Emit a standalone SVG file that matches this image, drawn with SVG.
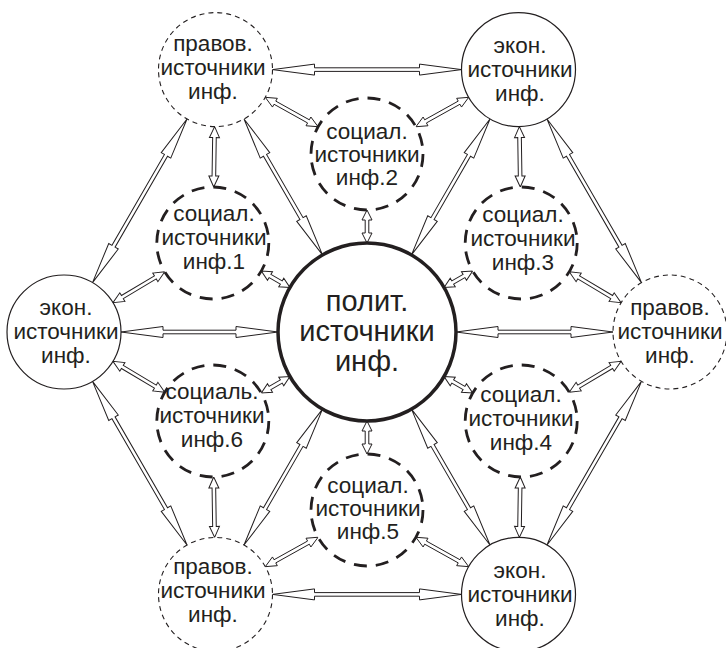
<svg xmlns="http://www.w3.org/2000/svg" xmlns:xlink="http://www.w3.org/1999/xlink" width="726" height="648" viewBox="0 0 726 648">
<style>
.n{fill:#fff;stroke:#231f20}
.ctr{stroke-width:3.5}
.ek{stroke-width:1.2}
.pr{stroke-width:1.1;stroke-dasharray:5 4}
.so{stroke-width:2.8;stroke-dasharray:13 9}
text{font-family:"Liberation Sans",Arial,sans-serif;fill:#231f20;text-anchor:middle}
.t1{font-size:22.5px}
.t2{font-size:29px}
</style>
<defs>
<path id="spoke" d="M89,0 L131,-5.5 L131,-1.8 L204,-1.8 L204,-5.5 L246,0 L204,5.5 L204,1.8 L131,1.8 L131,5.5 Z"/>
<path id="edge" d="M262.4,-94.5 L267.9,-52.5 L264.2,-52.5 L264.2,52.5 L267.9,52.5 L262.4,94.5 L256.9,52.5 L260.6,52.5 L260.6,-52.5 L256.9,-52.5 Z"/>
<path id="sc" d="M89,0 L99,-5 L99,-1.8 L112,-1.8 L112,-5 L122,0 L112,5 L112,1.8 L99,1.8 L99,5 Z"/>
<path id="sout" d="M205.26,48.93 L214.98,56.11 L212.18,57.66 L230.88,91.21 L233.68,89.66 L234.66,101.7 L224.94,94.52 L227.74,92.97 L209.04,59.42 L206.24,60.97 Z"/>
</defs>
<g id="connectors" fill="#fff" stroke="#231f20" stroke-width="1" stroke-linejoin="miter">
<use xlink:href="#spoke" transform="translate(367 332) rotate(0)"/>
<use xlink:href="#spoke" transform="translate(367 332) rotate(60)"/>
<use xlink:href="#spoke" transform="translate(367 332) rotate(120)"/>
<use xlink:href="#spoke" transform="translate(367 332) rotate(180)"/>
<use xlink:href="#spoke" transform="translate(367 332) rotate(240)"/>
<use xlink:href="#spoke" transform="translate(367 332) rotate(300)"/>
<use xlink:href="#edge" transform="translate(367 332) rotate(30)"/>
<use xlink:href="#edge" transform="translate(367 332) rotate(90)"/>
<use xlink:href="#edge" transform="translate(367 332) rotate(150)"/>
<use xlink:href="#edge" transform="translate(367 332) rotate(210)"/>
<use xlink:href="#edge" transform="translate(367 332) rotate(270)"/>
<use xlink:href="#edge" transform="translate(367 332) rotate(330)"/>
<use xlink:href="#sc" transform="translate(367 332) rotate(30)"/>
<use xlink:href="#sc" transform="translate(367 332) rotate(90)"/>
<use xlink:href="#sc" transform="translate(367 332) rotate(150)"/>
<use xlink:href="#sc" transform="translate(367 332) rotate(210)"/>
<use xlink:href="#sc" transform="translate(367 332) rotate(270)"/>
<use xlink:href="#sc" transform="translate(367 332) rotate(330)"/>
<use xlink:href="#sout" transform="translate(367 332) rotate(30)"/>
<use xlink:href="#sout" transform="translate(367 332) rotate(30) scale(1 -1)"/>
<use xlink:href="#sout" transform="translate(367 332) rotate(90)"/>
<use xlink:href="#sout" transform="translate(367 332) rotate(90) scale(1 -1)"/>
<use xlink:href="#sout" transform="translate(367 332) rotate(150)"/>
<use xlink:href="#sout" transform="translate(367 332) rotate(150) scale(1 -1)"/>
<use xlink:href="#sout" transform="translate(367 332) rotate(210)"/>
<use xlink:href="#sout" transform="translate(367 332) rotate(210) scale(1 -1)"/>
<use xlink:href="#sout" transform="translate(367 332) rotate(270)"/>
<use xlink:href="#sout" transform="translate(367 332) rotate(270) scale(1 -1)"/>
<use xlink:href="#sout" transform="translate(367 332) rotate(330)"/>
<use xlink:href="#sout" transform="translate(367 332) rotate(330) scale(1 -1)"/>
</g>
<g id="polit">
<circle class="n ctr" cx="367" cy="332" r="89"/>
<text class="t2" x="367" y="311">полит.</text>
<text class="t2" x="367" y="341">источники</text>
<text class="t2" x="367" y="371">инф.</text>
</g>
<g id="prav-tl">
<circle class="n pr" cx="215.5" cy="69.6" r="57"/>
<text class="t1" x="213" y="51">правов.</text>
<text class="t1" x="213" y="75">источники</text>
<text class="t1" x="213" y="99">инф.</text>
</g>
<g id="ekon-tr">
<circle class="n ek" cx="518.5" cy="69.6" r="57"/>
<text class="t1" x="520" y="53">экон.</text>
<text class="t1" x="520" y="77">источники</text>
<text class="t1" x="520" y="101">инф.</text>
</g>
<g id="ekon-l">
<circle class="n ek" cx="64" cy="332" r="57"/>
<text class="t1" x="66" y="315">экон.</text>
<text class="t1" x="66" y="339">источники</text>
<text class="t1" x="66" y="363">инф.</text>
</g>
<g id="prav-r">
<circle class="n pr" cx="670" cy="332" r="57"/>
<text class="t1" x="670" y="315">правов.</text>
<text class="t1" x="670" y="339">источники</text>
<text class="t1" x="670" y="363">инф.</text>
</g>
<g id="prav-bl">
<circle class="n pr" cx="215.5" cy="594.4" r="57"/>
<text class="t1" x="213" y="574">правов.</text>
<text class="t1" x="213" y="598">источники</text>
<text class="t1" x="213" y="622">инф.</text>
</g>
<g id="ekon-br">
<circle class="n ek" cx="518.5" cy="594.4" r="57"/>
<text class="t1" x="520" y="578">экон.</text>
<text class="t1" x="520" y="602">источники</text>
<text class="t1" x="520" y="626">инф.</text>
</g>
<g id="soc2">
<circle class="n so" cx="367" cy="154" r="56"/>
<text class="t1" x="367" y="139">социал.</text>
<text class="t1" x="367" y="162">источники</text>
<text class="t1" x="367" y="185">инф.2</text>
</g>
<g id="soc1">
<circle class="n so" cx="212.8" cy="243" r="56"/>
<text class="t1" x="214" y="221">социал.</text>
<text class="t1" x="214" y="245">источники</text>
<text class="t1" x="214" y="269">инф.1</text>
</g>
<g id="soc3">
<circle class="n so" cx="521.2" cy="243" r="56"/>
<text class="t1" x="523" y="222">социал.</text>
<text class="t1" x="523" y="246">источники</text>
<text class="t1" x="523" y="270">инф.3</text>
</g>
<g id="soc6">
<circle class="n so" cx="212.8" cy="421" r="56"/>
<text class="t1" x="212" y="399">социаль.</text>
<text class="t1" x="212" y="423">источники</text>
<text class="t1" x="212" y="447">инф.6</text>
</g>
<g id="soc4">
<circle class="n so" cx="521.2" cy="421" r="56"/>
<text class="t1" x="521" y="402">социал.</text>
<text class="t1" x="521" y="426">источники</text>
<text class="t1" x="521" y="450">инф.4</text>
</g>
<g id="soc5">
<circle class="n so" cx="367" cy="510" r="56"/>
<text class="t1" x="368" y="493">социал.</text>
<text class="t1" x="368" y="516">источники</text>
<text class="t1" x="368" y="539">инф.5</text>
</g>
</svg>
